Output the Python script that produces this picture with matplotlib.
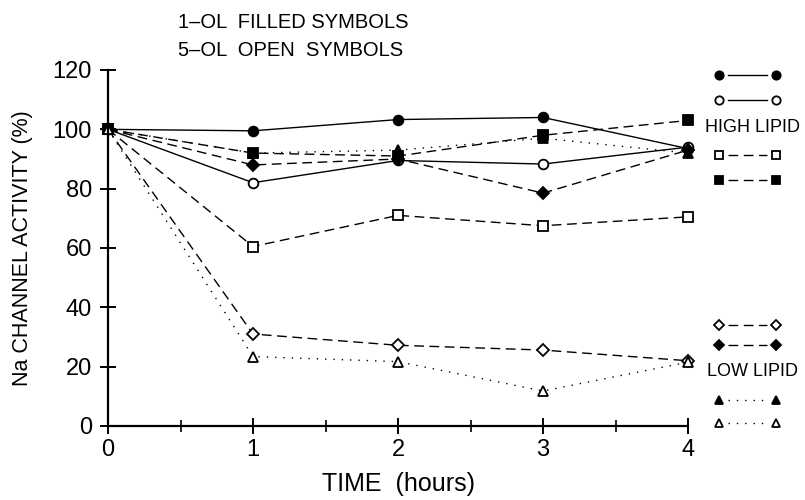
import matplotlib
matplotlib.use("Agg")
import matplotlib.pyplot as plt
from matplotlib.lines import Line2D

plt.rcParams['font.family'] = ['Liberation Sans', 'DejaVu Sans']

hours = [0, 1, 2, 3, 4]
filled_circle = [100, 99.5, 103.3, 104, 93.5]     # 1-OL high lipid, solid
open_circle = [100, 82, 89.5, 88.3, 94]           # 5-OL high lipid, solid
open_square = [100, 60.5, 71, 67.5, 70.5]         # 5-OL high lipid, dashed
filled_square = [100, 92, 91, 98, 103]            # 1-OL high lipid, dashed
open_diamond = [100, 31, 27.2, 25.6, 22]          # 5-OL low lipid, dashed
filled_diamond = [100, 88, 90, 78.5, 93]          # 1-OL low lipid, dashed
filled_triangle = [100, 92, 93, 97, 92]           # 1-OL low lipid, dotted
open_triangle = [100, 23.4, 21.7, 11.8, 21.5]     # 5-OL low lipid, dotted

y_ticks = [0, 20, 40, 60, 80, 100, 120]
x_ticks = [0, 1, 2, 3, 4]

fig = plt.figure(figsize=(8.05, 5.0), dpi=100)
ax = fig.add_axes([108/805, 1-426/500, 580/805, 356/500])

DASH = (7, 4)
DOT = (1, 5)
series = [
    (filled_circle, 'o', True, None),
    (open_circle, 'o', False, None),
    (open_square, 's', False, DASH),
    (filled_square, 's', True, DASH),
    (open_diamond, 'D', False, DASH),
    (filled_diamond, 'D', True, DASH),
    (filled_triangle, '^', True, DOT),
    (open_triangle, '^', False, DOT),
]

def style(marker, filled, dash):
    kw = dict(color='black', lw=1.0, marker=marker,
              markersize=7 if marker != 'D' else 6,
              markerfacecolor='black' if filled else 'white',
              markeredgecolor='black', markeredgewidth=1.3)
    if dash is None:
        kw['linestyle'] = '-'
    else:
        kw['linestyle'] = (0, dash)
    return kw

for vals, m, f, d in series:
    ax.plot(hours, vals, clip_on=False, **style(m, f, d))

ax.set_xlim(0, 4)
ax.set_ylim(0, 120)
ax.set_xticks(x_ticks)
ax.set_xticks([0.5, 1.5, 2.5, 3.5], minor=True)
ax.set_yticks(y_ticks)
for s in ['top', 'right']:
    ax.spines[s].set_visible(False)
for s in ['left', 'bottom']:
    ax.spines[s].set_linewidth(1.6)
ax.tick_params(axis='both', which='major', direction='inout', length=11, width=1.4,
               labelsize=17, pad=6)
ax.tick_params(axis='x', which='minor', direction='inout', length=8, width=1.2)
ax.tick_params(axis='x', pad=4)
ax.set_xlabel('TIME  (hours)', fontsize=18, labelpad=8)
ax.set_ylabel('Na CHANNEL ACTIVITY (%)', fontsize=15.5, labelpad=14)

# cap at top of y axis
ax.plot([-0.03, 0.03], [120, 120], color='black', lw=1.4, clip_on=False)

fig.text(178/805, 1-22/500, '1\u2013OL  FILLED SYMBOLS', fontsize=14.5, va='center', ha='left')
fig.text(178/805, 1-50/500, '5\u2013OL  OPEN  SYMBOLS', fontsize=14.5, va='center', ha='left')

# manual legend key: marker, gap, line, gap, marker
leg_x0, leg_x1 = 719/805, 776/805
gap = 9/805
leg_rows = [
    (75, 0), (100, 1), (155, 2), (180, 3),
    (325, 4), (345, 5), (400, 6), (423, 7),
]
for ypix, idx in leg_rows:
    vals, m, f, d = series[idx]
    yy = 1 - ypix/500
    kw = style(m, f, d)
    mk = dict(marker=kw['marker'], markersize=kw['markersize'] - 1,
              markerfacecolor=kw['markerfacecolor'], markeredgecolor='black',
              markeredgewidth=1.3, linestyle='none')
    fig.add_artist(Line2D([leg_x0, leg_x1], [yy, yy], transform=fig.transFigure, **mk))
    fig.add_artist(Line2D([leg_x0 + gap, leg_x1 - gap], [yy, yy], transform=fig.transFigure,
                          color='black', lw=1.0, linestyle=kw['linestyle']))
fig.text(752/805, 1-128/500, 'HIGH LIPID', fontsize=13, ha='center', va='center')
fig.text(752/805, 1-372/500, 'LOW LIPID', fontsize=13, ha='center', va='center')

fig.savefig('out.png', dpi=100)
